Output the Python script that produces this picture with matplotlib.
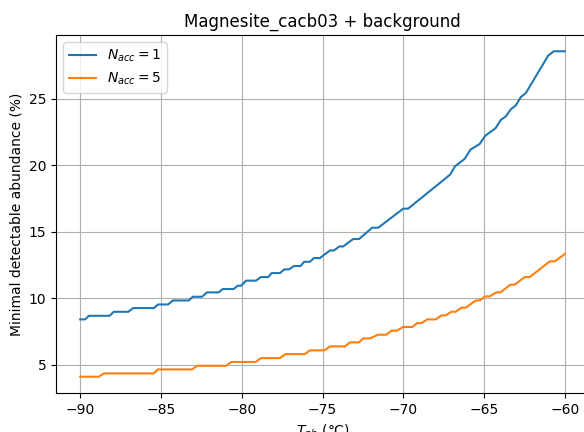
import matplotlib
matplotlib.use("Agg")
from matplotlib import pyplot as plt

# vertices of the stepped curves
t_n1 = [-90.0, -89.7, -89.46, -88.19, -87.92, -87.03, -86.72, -85.44, -85.18,
        -84.56, -84.27, -83.28, -83.03, -82.46, -82.15, -81.43, -81.18, -80.5,
        -80.25, -80.04, -79.73, -79.12, -78.81, -78.36, -78.15, -77.63, -77.36,
        -77.07, -76.77, -76.36, -76.13, -75.77, -75.53, -75.16, -74.54, -74.29,
        -73.96, -73.72, -73.1, -72.73, -71.93, -71.55, -70.0, -69.7, -67.1,
        -66.8, -66.2, -65.84, -65.27, -64.92, -64.29, -63.96, -63.65, -63.34,
        -63.03, -62.72, -62.41, -61.03, -60.68, -60.0]
mda_n1 = [8.41, 8.41, 8.68, 8.68, 8.98, 8.98, 9.26, 9.26, 9.53,
          9.53, 9.83, 9.83, 10.11, 10.11, 10.44, 10.44, 10.69, 10.69,
          10.94, 10.94, 11.32, 11.32, 11.59, 11.59, 11.89, 11.89, 12.17,
          12.17, 12.42, 12.42, 12.74, 12.74, 13.02, 13.02, 13.59, 13.59,
          13.89, 13.89, 14.45, 14.45, 15.30, 15.30, 16.73, 16.73, 19.29,
          19.91, 20.47, 21.17, 21.59, 22.22, 22.77, 23.40, 23.67, 24.20,
          24.50, 25.12, 25.42, 28.23, 28.56, 28.56]

t_n5 = [-90.0, -88.84, -88.54, -85.45, -85.19, -83.08, -82.76, -80.97, -80.64,
        -79.14, -78.81, -77.63, -77.30, -76.09, -75.78, -74.89, -74.52, -73.61,
        -73.30, -72.75, -72.48, -72.07, -71.55, -71.04, -70.73, -70.41, -70.0,
        -69.43, -69.14, -68.87, -68.52, -67.98, -67.64, -67.37, -67.02, -66.75,
        -66.41, -66.13, -65.51, -65.27, -64.92, -64.65, -64.23, -63.98, -63.37,
        -63.1, -62.48, -62.17, -60.93, -60.62, -60.0]
mda_n5 = [4.10, 4.10, 4.35, 4.35, 4.65, 4.65, 4.92, 4.92, 5.21,
          5.21, 5.50, 5.50, 5.80, 5.80, 6.08, 6.08, 6.38, 6.38,
          6.68, 6.68, 6.98, 6.98, 7.26, 7.26, 7.56, 7.56, 7.84,
          7.84, 8.13, 8.13, 8.41, 8.41, 8.71, 8.71, 8.98, 8.98,
          9.29, 9.29, 9.83, 9.83, 10.14, 10.14, 10.44, 10.44, 11.02,
          11.02, 11.59, 11.59, 12.77, 12.77, 13.32]

fig = plt.figure(figsize=(5.84, 4.32), dpi=100)
ax = fig.add_axes([56 / 584, 39 / 432, 533 / 584, 358 / 432])

ax.plot(t_n1, mda_n1, label=r"$N_{acc} = 1$")
ax.plot(t_n5, mda_n5, label=r"$N_{acc} = 5$")

ax.set_title("Magnesite_cacb03 + background")
ax.set_xlabel(r"$T_{ph}$ (°C)")
ax.set_ylabel("Minimal detectable abundance (%)")
ax.grid(True)
ax.legend(loc="upper left")

plt.savefig("out.png", dpi=100)
plt.close()
